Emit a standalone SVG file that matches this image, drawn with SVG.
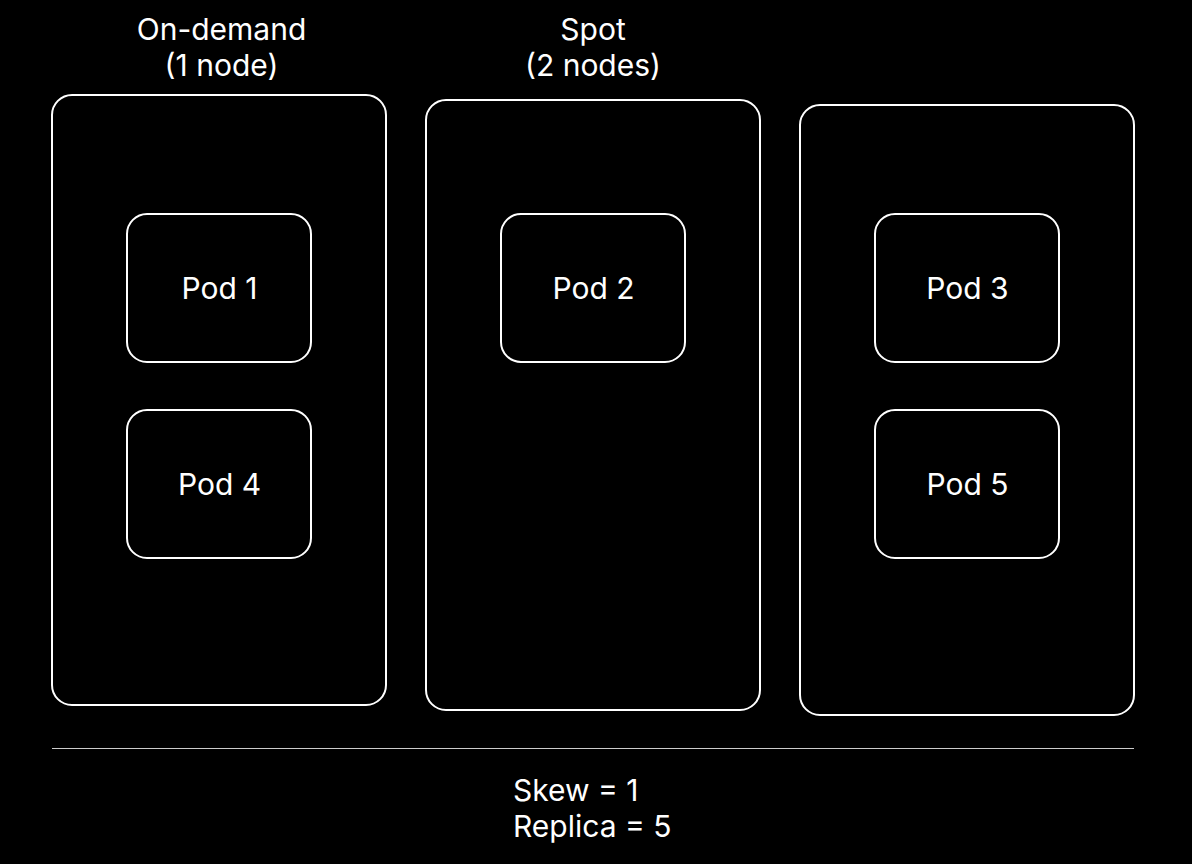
<svg xmlns="http://www.w3.org/2000/svg" width="1192" height="864" viewBox="0 0 1192 864">
<style>
.node{fill:none;stroke:#fff;stroke-width:2}
.t{font-family:Inter,"Liberation Sans",sans-serif;font-size:30px;fill:#fff}
.c{text-anchor:middle}
</style>
<rect x="0" y="0" width="1192" height="864" fill="#000"/>
<g id="label-ondemand"><text class="t c" x="221.5" y="40">On-demand</text><text class="t c" x="221.5" y="76">(1 node)</text></g>
<g id="label-spot"><text class="t c" x="593" y="40">Spot</text><text class="t c" x="593" y="76">(2 nodes)</text></g>
<g id="node1"><rect class="node" x="52" y="95" width="334" height="610" rx="20"/></g>
<g id="node2"><rect class="node" x="426" y="100" width="334" height="610" rx="20"/></g>
<g id="node3"><rect class="node" x="800" y="105" width="334" height="610" rx="20"/></g>
<g id="pod1"><rect class="node" x="127" y="214" width="184" height="148" rx="20"/><text class="t c" x="219.5" y="298.5">Pod 1</text></g>
<g id="pod4"><rect class="node" x="127" y="410" width="184" height="148" rx="20"/><text class="t c" x="219.5" y="494.5">Pod 4</text></g>
<g id="pod2"><rect class="node" x="501" y="214" width="184" height="148" rx="20"/><text class="t c" x="593.5" y="298.5">Pod 2</text></g>
<g id="pod3"><rect class="node" x="875" y="214" width="184" height="148" rx="20"/><text class="t c" x="967.5" y="298.5">Pod 3</text></g>
<g id="pod5"><rect class="node" x="875" y="410" width="184" height="148" rx="20"/><text class="t c" x="967.5" y="494.5">Pod 5</text></g>
<g id="connectors"><line x1="52" y1="748.5" x2="1134" y2="748.5" stroke="#ccc" stroke-width="1"/></g>
<g id="summary"><text class="t" x="513" y="800.5">Skew = 1</text><text class="t" x="513" y="837">Replica = 5</text></g>
</svg>
